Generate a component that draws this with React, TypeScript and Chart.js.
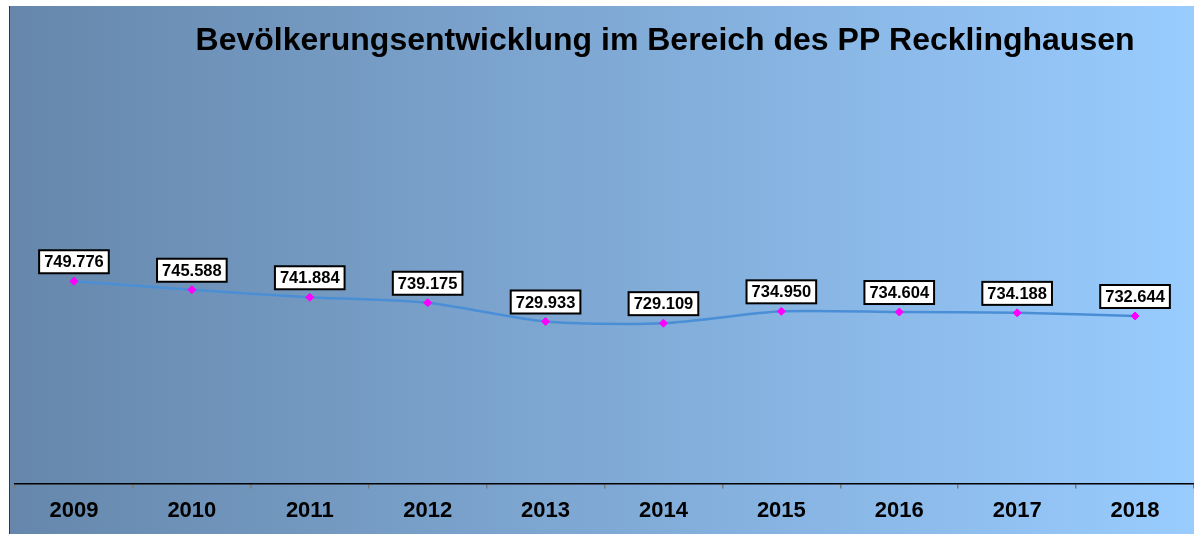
import React, { useEffect, useRef } from "react";
import { Chart, registerables } from "chart.js";

Chart.register(...registerables);

const TITLE = "Bevölkerungsentwicklung im Bereich des PP Recklinghausen";
const YEARS = ["2009", "2010", "2011", "2012", "2013", "2014", "2015", "2016", "2017", "2018"];
const POPULATION = [749776, 745588, 741884, 739175, 729933, 729109, 734950, 734604, 734188, 732644];
const Y_MIN = 650000;
const Y_MAX = 850000;

function formatDe(n: number): string {
  const s = String(Math.round(n));
  return s.replace(/\B(?=(\d{3})+(?!\d))/g, ".");
}

const decorPlugin = {
  id: "decor",
  beforeDraw(chart: any) {
    const { ctx, width, height } = chart;
    ctx.save();
    const g = ctx.createLinearGradient(0, 0, width, 0);
    g.addColorStop(0, "#6687ab");
    g.addColorStop(1, "#99ccff");
    ctx.fillStyle = g;
    ctx.fillRect(0, 0, width, height);
    ctx.fillStyle = "#3a3a3a";
    ctx.fillRect(0, 0, 1, height);
    ctx.restore();
  },
  afterDraw(chart: any) {
    const { ctx } = chart;
    ctx.save();
    // title
    ctx.font = "bold 32px 'Liberation Sans', Arial, sans-serif";
    ctx.fillStyle = "#000";
    ctx.textAlign = "center";
    ctx.textBaseline = "middle";
    ctx.fillText(TITLE, chart.width * 0.5513, 35);
    // value labels
    const meta = chart.getDatasetMeta(0);
    ctx.font = "bold 16.5px 'Liberation Sans', Arial, sans-serif";
    meta.data.forEach((pt: any, i: number) => {
      const txt = formatDe(POPULATION[i]);
      const w = ctx.measureText(txt).width + 10;
      const h = 23;
      const x = pt.x - w / 2;
      const y = pt.y - 8 - h;
      ctx.fillStyle = "#fff";
      ctx.fillRect(x, y, w, h);
      ctx.strokeStyle = "#000";
      ctx.lineWidth = 2;
      ctx.strokeRect(x, y, w, h);
      ctx.fillStyle = "#000";
      ctx.textAlign = "center";
      ctx.textBaseline = "middle";
      ctx.fillText(txt, pt.x, y + h / 2 + 1);
    });
    ctx.restore();
  },
};

export default function App() {
  const ref = useRef<HTMLCanvasElement | null>(null);
  useEffect(() => {
    if (!ref.current) return;
    const chart = new Chart(ref.current, {
      type: "line",
      data: {
        labels: YEARS,
        datasets: [
          {
            data: POPULATION,
            borderColor: "#4a8fd6",
            borderWidth: 2.5,
            tension: 0.25,
            pointStyle: "rectRot",
            pointRadius: 4,
            pointBackgroundColor: "#ff00ff",
            pointBorderColor: "#ff00ff",
            pointBorderWidth: 1,
          },
        ],
      },
      plugins: [decorPlugin],
      options: {
        animation: false,
        responsive: false,
        events: [],
        layout: { padding: { top: 72, left: 6, right: 2, bottom: 1 } },
        plugins: { legend: { display: false }, tooltip: { enabled: false }, title: { display: false } },
        scales: {
          x: {
            offset: true,
            grid: {
              offset: true,
              drawOnChartArea: false,
              drawTicks: true,
              tickLength: 5,
              color: "#7a7a7a",
              lineWidth: 1.5,
            },
            border: { display: true, color: "#000", width: 1.5 },
            ticks: {
              color: "#000",
              padding: 9,
              font: { family: "'Liberation Sans', Arial, sans-serif", size: 22, weight: "bold" },
              maxRotation: 0,
            },
          },
          y: { display: false, min: Y_MIN, max: Y_MAX },
        },
      },
    });
    return () => chart.destroy();
  }, []);
  return (
    <div style={{ position: "fixed", left: 9, top: 6, width: 1190, height: 528 }}>
      <canvas ref={ref} width={1190} height={528} style={{ display: "block" }} />
    </div>
  );
}
